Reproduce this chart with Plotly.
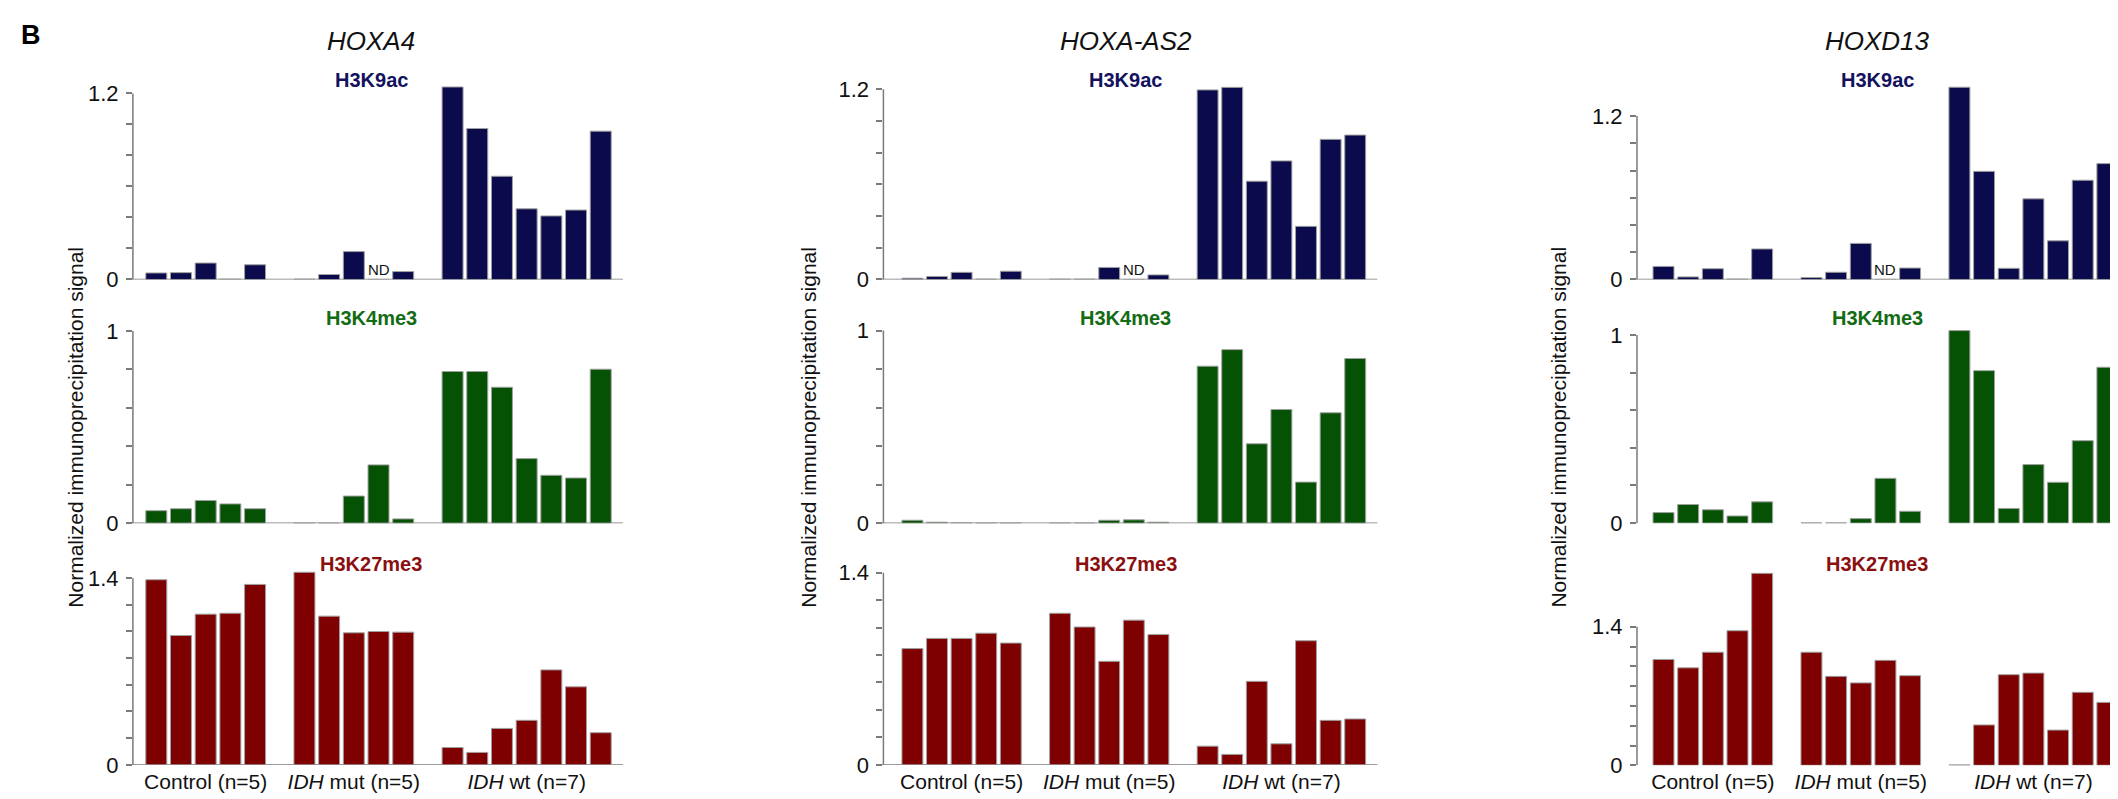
import plotly.graph_objects as go

# ---------------- data ----------------
genes = ["HOXA4", "HOXA-AS2", "HOXD13"]
marks = ["H3K9ac", "H3K4me3", "H3K27me3"]
group_labels = ["Control (n=5)", "<i>IDH</i> mut (n=5)", "<i>IDH</i> wt (n=7)"]
group_sizes = [5, 5, 7]
top_tick_values = [1.2, 1.0, 1.4]
top_tick_labels = ["1.2", "1", "1.4"]

# order: 5 control, 5 IDH mut, 7 IDH wt ; None = ND (not determined)
hoxa4_h3k9ac = [0.042, 0.044, 0.106, 0, 0.095,
                0, 0.032, 0.18, None, 0.051,
                1.242, 0.974, 0.666, 0.456, 0.41, 0.448, 0.957]
hoxa4_h3k4me3 = [0.065, 0.075, 0.118, 0.10, 0.075,
                 0, 0, 0.141, 0.303, 0.022,
                 0.789, 0.789, 0.707, 0.336, 0.249, 0.235, 0.801]
hoxa4_h3k27me3 = [1.388, 0.970, 1.130, 1.137, 1.353,
                  1.444, 1.115, 0.990, 1.000, 0.995,
                  0.130, 0.093, 0.273, 0.334, 0.712, 0.585, 0.241]

hoxaas2_h3k9ac = [0.008, 0.019, 0.045, 0, 0.052,
                  0, 0, 0.076, None, 0.029,
                  1.196, 1.212, 0.620, 0.748, 0.335, 0.884, 0.911]
hoxaas2_h3k4me3 = [0.015, 0.005, 0.003, 0, 0,
                   0, 0, 0.015, 0.017, 0.005,
                   0.815, 0.901, 0.412, 0.590, 0.213, 0.573, 0.855]
hoxaas2_h3k27me3 = [0.847, 0.921, 0.921, 0.959, 0.887,
                    1.104, 1.004, 0.754, 1.054, 0.949,
                    0.136, 0.076, 0.608, 0.153, 0.904, 0.324, 0.334]

hoxd13_h3k9ac = [0.096, 0.019, 0.079, 0, 0.224,
                 0.014, 0.053, 0.265, None, 0.084,
                 1.412, 0.794, 0.082, 0.592, 0.284, 0.729, 0.851]
hoxd13_h3k4me3 = [0.056, 0.099, 0.071, 0.038, 0.113,
                  0, 0, 0.024, 0.238, 0.063,
                  1.023, 0.810, 0.078, 0.311, 0.217, 0.438, 0.828]
hoxd13_h3k27me3 = [1.070, 0.985, 1.143, 1.360, 1.940,
                   1.143, 0.899, 0.833, 1.061, 0.906,
                   0, 0.408, 0.916, 0.932, 0.356, 0.738, 0.636]

values = {
    (0, 0): hoxa4_h3k9ac, (0, 1): hoxa4_h3k4me3, (0, 2): hoxa4_h3k27me3,
    (1, 0): hoxaas2_h3k9ac, (1, 1): hoxaas2_h3k4me3, (1, 2): hoxaas2_h3k27me3,
    (2, 0): hoxd13_h3k9ac, (2, 1): hoxd13_h3k4me3, (2, 2): hoxd13_h3k27me3,
}

# ---------------- style / geometry (pixels) ----------------
W, H = 2118, 799
bar_colors = ["#0a0a4c", "#055205", "#7f0000"]
title_colors = ["#12125e", "#136b13", "#8a1010"]
axis_gray = "#7a7a7a"
FONT = "Liberation Sans, Arial, Helvetica, sans-serif"

# per column: y-axis x pixel, slot-0 centre pixel, slot pitch
col_geom = [(124.9, 148.3, 24.69), (875.4, 904.4, 24.6), (1629.0, 1655.5, 24.66)]
col_center = [363.0, 1117.5, 1869.0]
ylabel_x = [66.6, 799.7, 1550.5]
# per (col,row): pixel of value 0 and pixel of top tick
row_geom = {
    (0, 0): (275.3, 86.0), (0, 1): (523.3, 327.7), (0, 2): (769.3, 579.3),
    (1, 0): (275.3, 81.7), (1, 1): (523.3, 327.3), (1, 2): (769.3, 573.7),
    (2, 0): (275.3, 109.0), (2, 1): (523.3, 331.7), (2, 2): (769.8, 628.8),
}
row_top_px = [70, 308, 556]
row_title_y = [72, 315, 565]
draw_xline = {(c, r): not (c == 2 and r > 0) for c in range(3) for r in range(3)}

positions = []
start = 0
for n in group_sizes:
    positions.append(list(range(start, start + n)))
    start += n + 1
slots = [p for g in positions for p in g]
group_centers = [sum(g) / len(g) for g in positions]


def px_x(x):
    return x / W


def px_y(y):
    return 1 - y / H


fig = go.Figure()
layout = dict(width=W, height=H, margin=dict(l=0, r=0, t=0, b=0),
              paper_bgcolor="white", plot_bgcolor="white", showlegend=False,
              font=dict(family=FONT, color="#111"), bargap=0.15)
annotations = []
shapes = []

for c in range(3):
    xa, c0, pitch = col_geom[c]
    lo = (xa - c0) / pitch
    right_px = min(W, c0 + 18.9 * pitch)
    hi = (right_px - c0) / pitch
    for r in range(3):
        k = r * 3 + c + 1
        xn = "x" if k == 1 else f"x{k}"
        yn = "y" if k == 1 else f"y{k}"
        zero_px, tick_px = row_geom[(c, r)]
        scale = (zero_px - tick_px) / top_tick_values[r]
        ymax = (zero_px - row_top_px[r]) / scale
        vals = values[(c, r)]
        yv = [v if v is not None else 0 for v in vals]

        fig.add_trace(go.Bar(x=slots, y=yv, xaxis=xn, yaxis=yn, width=0.85,
                             marker=dict(color=bar_colors[r],
                                         line=dict(color="#a0a0a0", width=1)),
                             hoverinfo="x+y"))
        # zero-valued bars shown as thin grey lines
        zx, zy = [], []
        for s, v in zip(slots, vals):
            if v == 0:
                zx += [s - 0.425, s + 0.425, None]
                zy += [0, 0, None]
        if zx:
            fig.add_trace(go.Scatter(x=zx, y=zy, xaxis=xn, yaxis=yn, mode="lines",
                                     line=dict(color="#a8a8a8", width=2),
                                     hoverinfo="skip"))
        # ND labels
        for s, v in zip(slots, vals):
            if v is None:
                annotations.append(dict(x=s, y=0, xref=xn, yref=yn, text="ND",
                                        showarrow=False, yanchor="bottom",
                                        yshift=-1, font=dict(size=15, color="#111")))

        step = 0.2
        nt = int(round(top_tick_values[r] / step))
        tickvals = [round(i * step, 2) for i in range(nt + 1)]
        ticktext = ["0"] + [""] * (nt - 1) + [top_tick_labels[r]]

        ax_suffix = "" if k == 1 else str(k)
        layout["xaxis" + ax_suffix] = dict(
            domain=[px_x(xa), px_x(right_px)], range=[lo, hi], anchor=yn,
            showgrid=False, zeroline=False, showline=False,
            tickvals=group_centers if r == 2 else [],
            ticktext=group_labels if r == 2 else [],
            showticklabels=(r == 2), ticks="",
            tickfont=dict(size=21, color="#111", family=FONT),
            ticklabelstandoff=2, fixedrange=True)
        layout["yaxis" + ax_suffix] = dict(
            domain=[px_y(zero_px), px_y(row_top_px[r])], range=[0, ymax], anchor=xn,
            showgrid=False, zeroline=False, showline=False,
            tickvals=tickvals, ticktext=ticktext, ticks="outside", ticklen=6,
            tickwidth=1.5, tickcolor=axis_gray, ticklabelstandoff=3,
            tickfont=dict(size=22, color="#111", family=FONT), fixedrange=True)

        # y axis line from 0 to top tick
        shapes.append(dict(type="line", xref=f"{xn} domain", yref=yn,
                           x0=0, x1=0, y0=0, y1=top_tick_values[r],
                           line=dict(color=axis_gray, width=1.5), layer="above"))
        if draw_xline[(c, r)]:
            shapes.append(dict(type="line", xref="paper", yref=yn,
                               x0=px_x(xa - 4), x1=px_x(right_px), y0=0, y1=0,
                               line=dict(color=axis_gray, width=1.5), layer="below"))
        # panel title
        annotations.append(dict(x=px_x(col_center[c]), y=px_y(row_title_y[r]),
                                xref="paper", yref="paper", text=f"<b>{marks[r]}</b>",
                                showarrow=False, xanchor="center", yanchor="middle",
                                font=dict(size=20, color=title_colors[r], family=FONT)))
    # gene title
    annotations.append(dict(x=px_x(col_center[c]), y=px_y(32.5), xref="paper", yref="paper",
                            text=f"<i>{genes[c]}</i>", showarrow=False,
                            xanchor="center", yanchor="middle",
                            font=dict(size=26, color="#111", family=FONT)))
    # y label
    annotations.append(dict(x=px_x(ylabel_x[c]), y=px_y(425.5), xref="paper", yref="paper",
                            text="Normalized immunoprecipitation signal", textangle=-90,
                            showarrow=False, xanchor="center", yanchor="middle",
                            font=dict(size=21, color="#111", family=FONT)))

annotations.append(dict(x=px_x(23), y=px_y(26.7), xref="paper", yref="paper",
                        text="<b>B</b>", showarrow=False, xanchor="center", yanchor="middle",
                        font=dict(size=27, color="#000", family=FONT)))

layout["annotations"] = annotations
layout["shapes"] = shapes
fig.update_layout(**layout)
fig.write_html("out.html")
